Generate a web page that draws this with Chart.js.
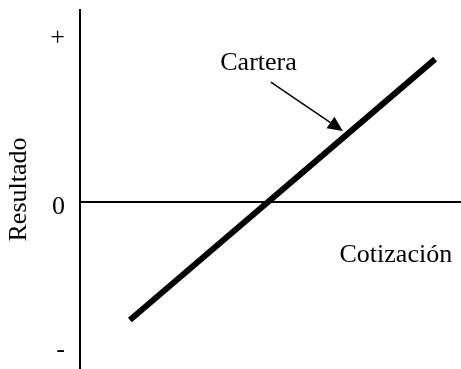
<!DOCTYPE html>
<html>
<head>
<meta charset="utf-8">
<script src="https://cdn.jsdelivr.net/npm/chart.js@4.4.1/dist/chart.umd.min.js"></script>
<style>
  html, body { margin: 0; padding: 0; background: #fff; }
  #wrap { width: 461px; height: 369px; }
</style>
</head>
<body>
<div id="wrap"><canvas id="myChart"></canvas></div>
<script>
// Cartera: resultado frente a cotizacion
const cotizacion = [13.1, 93.2];
const resultado = [-0.711, 0.861];

const yTickValues = [-0.86, 0, 1.018];
const yTickLabels = ['-', '0', '+'];

const yTitle = 'Resultado';
const xLabel = 'Cotización';
const seriesLabel = 'Cartera';

const serif = "'Liberation Serif', 'Times New Roman', serif";

// texts and arrow placed in data units
const notes = {
  cartera: { x: 46.85, y: 0.798 },
  arrowFrom: { x: 50.1, y: 0.723 },
  arrowTo: { x: 69.0, y: 0.428 },
  cotizacion: { x: 82.9, y: -0.361 }
};

const notesPlugin = {
  id: 'notes',
  afterDatasetsDraw(chart) {
    const { ctx, scales: { x, y } } = chart;
    ctx.save();
    ctx.fillStyle = '#000';
    ctx.strokeStyle = '#000';
    ctx.font = '26px ' + serif;
    ctx.textAlign = 'center';
    ctx.textBaseline = 'alphabetic';
    ctx.fillText(seriesLabel, x.getPixelForValue(notes.cartera.x), y.getPixelForValue(notes.cartera.y));
    ctx.fillText(xLabel, x.getPixelForValue(notes.cotizacion.x), y.getPixelForValue(notes.cotizacion.y));

    // arrow
    const x1 = x.getPixelForValue(notes.arrowFrom.x), y1 = y.getPixelForValue(notes.arrowFrom.y);
    const x2 = x.getPixelForValue(notes.arrowTo.x), y2 = y.getPixelForValue(notes.arrowTo.y);
    const ang = Math.atan2(y2 - y1, x2 - x1);
    const headLen = 15, headW = 7;
    const bx = x2 - headLen * Math.cos(ang), by = y2 - headLen * Math.sin(ang);
    ctx.lineWidth = 1.5;
    ctx.beginPath();
    ctx.moveTo(x1, y1);
    ctx.lineTo(bx, by);
    ctx.stroke();
    ctx.beginPath();
    ctx.moveTo(x2, y2);
    ctx.lineTo(bx + headW * Math.sin(ang), by - headW * Math.cos(ang));
    ctx.lineTo(bx - headW * Math.sin(ang), by + headW * Math.cos(ang));
    ctx.closePath();
    ctx.fill();
    ctx.restore();
  }
};

const ctx = document.getElementById('myChart');

const graph = new Chart(ctx, {
  type: 'line',
  data: {
    datasets: [{
      label: seriesLabel,
      data: cotizacion.map((v, i) => ({ x: v, y: resultado[i] })),
      borderColor: '#000',
      borderWidth: 6,
      borderCapStyle: 'butt',
      pointRadius: 0,
      fill: false,
      clip: false
    }]
  },
  options: {
    responsive: true,
    maintainAspectRatio: false,
    animation: false,
    layout: { padding: { top: 10, right: 0, bottom: 0, left: 0 } },
    plugins: {
      legend: { display: false },
      tooltip: { enabled: false }
    },
    scales: {
      x: {
        type: 'linear',
        min: 0,
        max: 100,
        display: false
      },
      y: {
        type: 'linear',
        min: -1.006,
        max: 1.157,
        afterFit(scale) {
          scale.width = 80;
          scale.paddingTop = 0;
          scale.paddingBottom = 0;
        },
        afterBuildTicks(scale) {
          scale.ticks = yTickValues.map(v => ({ value: v }));
        },
        ticks: {
          color: '#000',
          font: { family: serif, size: 26 },
          padding: 15,
          labelOffset: 5,
          callback: (value) => yTickLabels[yTickValues.indexOf(value)]
        },
        grid: {
          drawTicks: false,
          lineWidth: 2,
          color: (c) => (c.tick && c.tick.value === 0 ? '#000' : 'rgba(0,0,0,0)')
        },
        border: { display: true, color: '#000', width: 2 },
        title: {
          display: true,
          text: yTitle,
          color: '#000',
          font: { family: serif, size: 26 },
          padding: { top: 4, bottom: 0 }
        }
      }
    }
  },
  plugins: [notesPlugin]
});
</script>
</body>
</html>
